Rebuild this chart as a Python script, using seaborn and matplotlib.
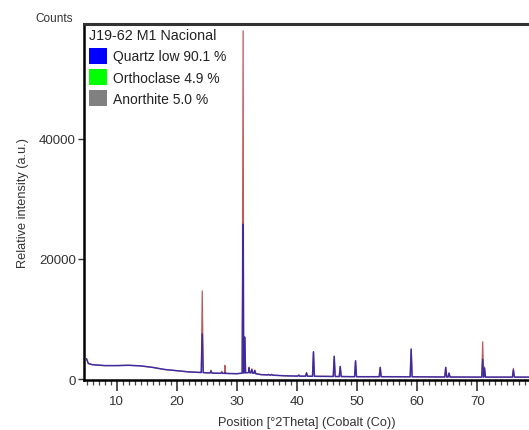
import numpy as np
import pandas as pd
import matplotlib
matplotlib.use("Agg")
import matplotlib.pyplot as plt
from matplotlib.patches import Patch
from matplotlib.ticker import MultipleLocator
import seaborn as sns

# Background intensity of the scan (2theta, counts)
bg_theta = [5.0, 5.3, 6.0, 8.0, 10.0, 12.0, 14.0, 16.0, 18.0, 20.0, 22.0, 24.0,
            26.0, 28.0, 30.0, 32.0, 34.0, 36.0, 38.0, 40.0, 45.0, 50.0, 55.0,
            60.0, 65.0, 70.0, 75.0, 80.0]
bg_counts = [3400, 2600, 2400, 2250, 2250, 2300, 2200, 1950, 1600, 1400, 1200, 1100,
             1000, 950, 900, 1100, 750, 650, 550, 500, 450, 400, 400,
             380, 350, 330, 330, 330]

# Reflections: position, observed peak counts, calculated peak counts
peak_theta = [24.25, 25.7, 27.5, 28.0, 31.05, 31.3, 32.0, 32.5, 33.0, 35.3, 35.8,
              40.3, 41.6, 42.75, 46.2, 47.2, 49.75, 53.85, 59.0, 64.75, 65.3,
              70.9, 71.2, 76.0]
peak_obs = [14700, 1500, 1300, 2300, 58000, 7000, 2000, 1700, 1500, 800, 800,
            700, 1100, 4550, 3800, 2100, 3050, 1950, 5000, 1950, 1000,
            6200, 2000, 1780]
peak_calc = [7500, 1300, 1100, 1100, 25800, 7000, 1800, 1600, 1400, 750, 750,
             650, 1000, 4550, 3800, 2100, 3050, 1950, 5000, 1950, 1000,
             3300, 1800, 1500]

phases = ["Quartz low 90.1 %", "Orthoclase 4.9 %", "Anorthite 5.0 %"]
phase_colors = ["#0000ff", "#00ff00", "#808080"]
sample_name = "J19-62 M1 Nacional"


def profile(heights, half_width=0.16):
    """Background polyline with a narrow triangular profile at each reflection."""
    xs = list(bg_theta)
    ys = list(bg_counts)
    for p, h in zip(peak_theta, heights):
        for dx in (-half_width, half_width):
            xs.append(p + dx)
            ys.append(float(np.interp(p + dx, bg_theta, bg_counts)))
        xs.append(p)
        ys.append(h)
    order = np.argsort(xs)
    return pd.DataFrame({"theta": np.array(xs)[order], "counts": np.array(ys)[order]})


obs = profile(peak_obs)
calc = profile(peak_calc)

sns.set_theme(style="white")
plt.rcParams["font.family"] = ["Liberation Sans", "DejaVu Sans"]

fig = plt.figure(figsize=(5.29, 4.31), dpi=100)
ax = fig.add_axes([0.159, 0.116, 0.841, 0.827])

sns.lineplot(data=obs, x="theta", y="counts", ax=ax, color="#c05a5a",
             lw=0.9, estimator=None, sort=False)
sns.lineplot(data=calc, x="theta", y="counts", ax=ax, color="#1c1cb0",
             lw=1.1, alpha=0.78, estimator=None, sort=False)

ax.set_xlim(4.6, 78.6)
ax.set_ylim(-150, 59200)
ax.set_yticks([0, 20000, 40000])
ax.xaxis.set_major_locator(MultipleLocator(10))
ax.xaxis.set_minor_locator(MultipleLocator(1))
ax.tick_params(axis="x", which="major", direction="out", length=8, width=1.1,
               color="#222222", labelsize=9.5, labelcolor="#333333", pad=3, bottom=True)
ax.tick_params(axis="x", which="minor", direction="out", length=3.5, width=0.9,
               color="#444444", bottom=True)
ax.tick_params(axis="y", direction="out", length=4, width=1.0, color="#333333",
               labelsize=9.5, labelcolor="#333333", pad=2, left=True)

ax.set_xlabel("Position [°2Theta] (Cobalt (Co))", fontsize=9.2, color="#333333", labelpad=6)
ax.set_ylabel("Relative intensity (a.u.)", fontsize=9.2, color="#333333", labelpad=7)

for side in ("left", "bottom"):
    ax.spines[side].set_color("#000000")
    ax.spines[side].set_linewidth(1.8)
ax.spines["top"].set_color("#333333")
ax.spines["top"].set_linewidth(2.2)
ax.spines["right"].set_visible(False)

fig.text(0.066, 0.957, "Counts", fontsize=8.5, color="#333333", va="center")

handles = [Patch(facecolor=c, edgecolor="none") for c in phase_colors]
leg = ax.legend(handles, phases, title=sample_name, loc="upper left",
                frameon=False, fontsize=10, title_fontsize=10.3, alignment="left",
                handlelength=1.3, handleheight=1.35, handletextpad=0.4,
                labelspacing=0.4, borderaxespad=0.15, borderpad=0.2)
for t in leg.get_texts():
    t.set_color("#222222")
leg.get_title().set_color("#222222")

fig.savefig("out.png", dpi=100)
